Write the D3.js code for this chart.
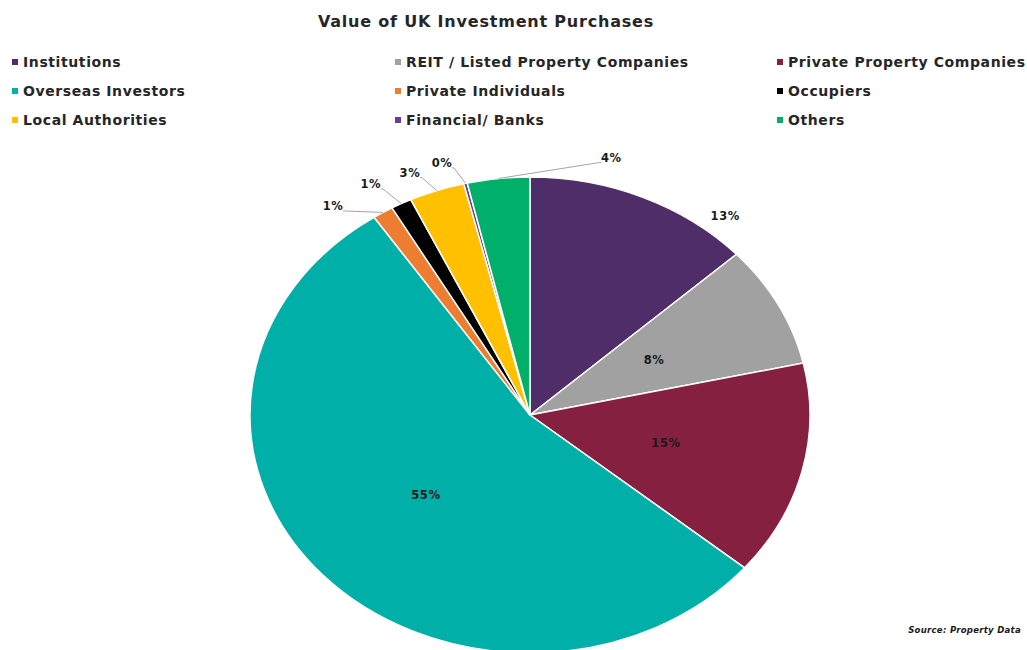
<!DOCTYPE html>
<html>
<head>
<meta charset="utf-8">
<script src="https://cdn.jsdelivr.net/npm/d3@7"></script>
<style>
  body { margin: 0; background: #fff; }
  svg { display: block; font-family: "DejaVu Sans", sans-serif; }
  .pie-label { font-weight: bold; font-size: 11.5px; letter-spacing: 0.6px; fill: #1a1a1a; }
</style>
</head>
<body>
<div id="chart"></div>
<script>
"use strict";

const title = 'Value of UK Investment Purchases';
const source = 'Source: Property Data';

const categories = [
  'Institutions', 'REIT / Listed Property Companies', 'Private Property Companies',
  'Overseas Investors', 'Private Individuals', 'Occupiers',
  'Local Authorities', 'Financial/ Banks', 'Others'
];
// share of purchases, %
const shares = [13.2, 8.3, 14.6, 54.5, 1.2, 1.2, 3.2, 0.2, 3.6];
const colors = [
  '#4f2d69', '#a1a1a1', '#862041',
  '#00b0a8', '#ed7d31', '#000000',
  '#ffc000', '#6d3a9c', '#00b06a'
];

let width = 1027;
let height = 650;
let cx = 530, cy = 415;
let rx = 280, ry = 238;

let svg = d3.select('#chart')
  .append('svg')
  .attr('width', width)
  .attr('height', height);

svg.append('text')
  .attr('x', 486)
  .attr('y', 27)
  .attr('text-anchor', 'middle')
  .style('font-size', '16px')
  .style('letter-spacing', '0.8px')
  .style('font-weight', 'bold')
  .style('fill', '#262626')
  .text(title);

// legend, 3 columns, row-major
let legendX = d3.scaleOrdinal().domain([0, 1, 2]).range([12, 395, 777]);
let legendY = d3.scaleOrdinal().domain([0, 1, 2]).range([62, 91, 120]);

let legend = svg.append('g')
  .selectAll('g')
  .data(categories)
  .join('g')
  .attr('transform', (d, i) => 'translate(' + legendX(i % 3) + ', ' + legendY(Math.floor(i / 3)) + ')');

legend.append('rect')
  .attr('x', 0).attr('y', -3)
  .attr('width', 6).attr('height', 6)
  .attr('fill', (d, i) => colors[i]);

legend.append('text')
  .attr('x', 11)
  .attr('y', 5)
  .style('font-size', '14px')
  .style('letter-spacing', '0.6px')
  .style('font-weight', 'bold')
  .style('fill', '#262626')
  .text(d => d);

// pie, drawn as a circle and stretched into an ellipse
let pie = d3.pie().sort(null).value(d => d);
let arcs = pie(shares);

let arc = d3.arc().innerRadius(0).outerRadius(ry);

svg.append('g')
  .attr('transform', 'translate(' + cx + ', ' + cy + ') scale(' + (rx / ry) + ', 1)')
  .selectAll('path')
  .data(arcs)
  .join('path')
  .attr('d', arc)
  .attr('fill', (d, i) => colors[i])
  .attr('stroke', '#fff')
  .attr('stroke-width', 1.5)
  .attr('vector-effect', 'non-scaling-stroke');

let polar = (a, r) => [cx + rx * r * Math.sin(a), cy - ry * r * Math.cos(a)];
let deg = Math.PI / 180;

// label placement: radius factor and angle shift from slice middle
let placement = [
  { r: 1.09, shift: 16 },
  { r: 0.5, shift: 0 },
  { r: 0.5, shift: 0 },
  { r: 0.5, shift: 0 },
  { r: 1.125, shift: -7, leader: true },
  { r: 1.125, shift: -3, leader: true },
  { r: 1.105, shift: -3.4, leader: true },
  { r: 1.105, shift: -3.2, leader: true },
  { r: 1.12, shift: 21.5, leader: true }
];

let labels = arcs.map((d, i) => {
  let mid = (d.startAngle + d.endAngle) / 2;
  let p = placement[i];
  let pos = polar(mid + p.shift * deg, p.r);
  return {
    text: Math.round(shares[i]) + '%',
    mid: mid,
    x: pos[0],
    y: pos[1],
    leader: p.leader
  };
});

let leaders = svg.append('g');
labels.filter(l => l.leader).forEach(l => {
  let start = polar(l.mid, 1.0);
  let hw = 12;
  let endX = l.x < start[0] ? l.x + hw : l.x - hw;
  leaders.append('polyline')
    .attr('points', [start, [endX, l.y + 5], [l.x < start[0] ? endX - 2 : endX + 2, l.y + 5]].map(p => p.join(',')).join(' '))
    .attr('fill', 'none')
    .attr('stroke', '#a6a6a6')
    .attr('stroke-width', 1);
});

svg.append('g')
  .selectAll('text')
  .data(labels)
  .join('text')
  .attr('class', 'pie-label')
  .attr('x', d => d.x)
  .attr('y', d => d.y + 4)
  .attr('text-anchor', 'middle')
  .text(d => d.text);

svg.append('text')
  .attr('x', 1021)
  .attr('y', 633)
  .attr('text-anchor', 'end')
  .style('font-size', '8.5px')
  .style('letter-spacing', '0.3px')
  .style('font-weight', 'bold')
  .style('font-style', 'italic')
  .style('fill', '#1a1a1a')
  .text(source);
</script>
</body>
</html>
